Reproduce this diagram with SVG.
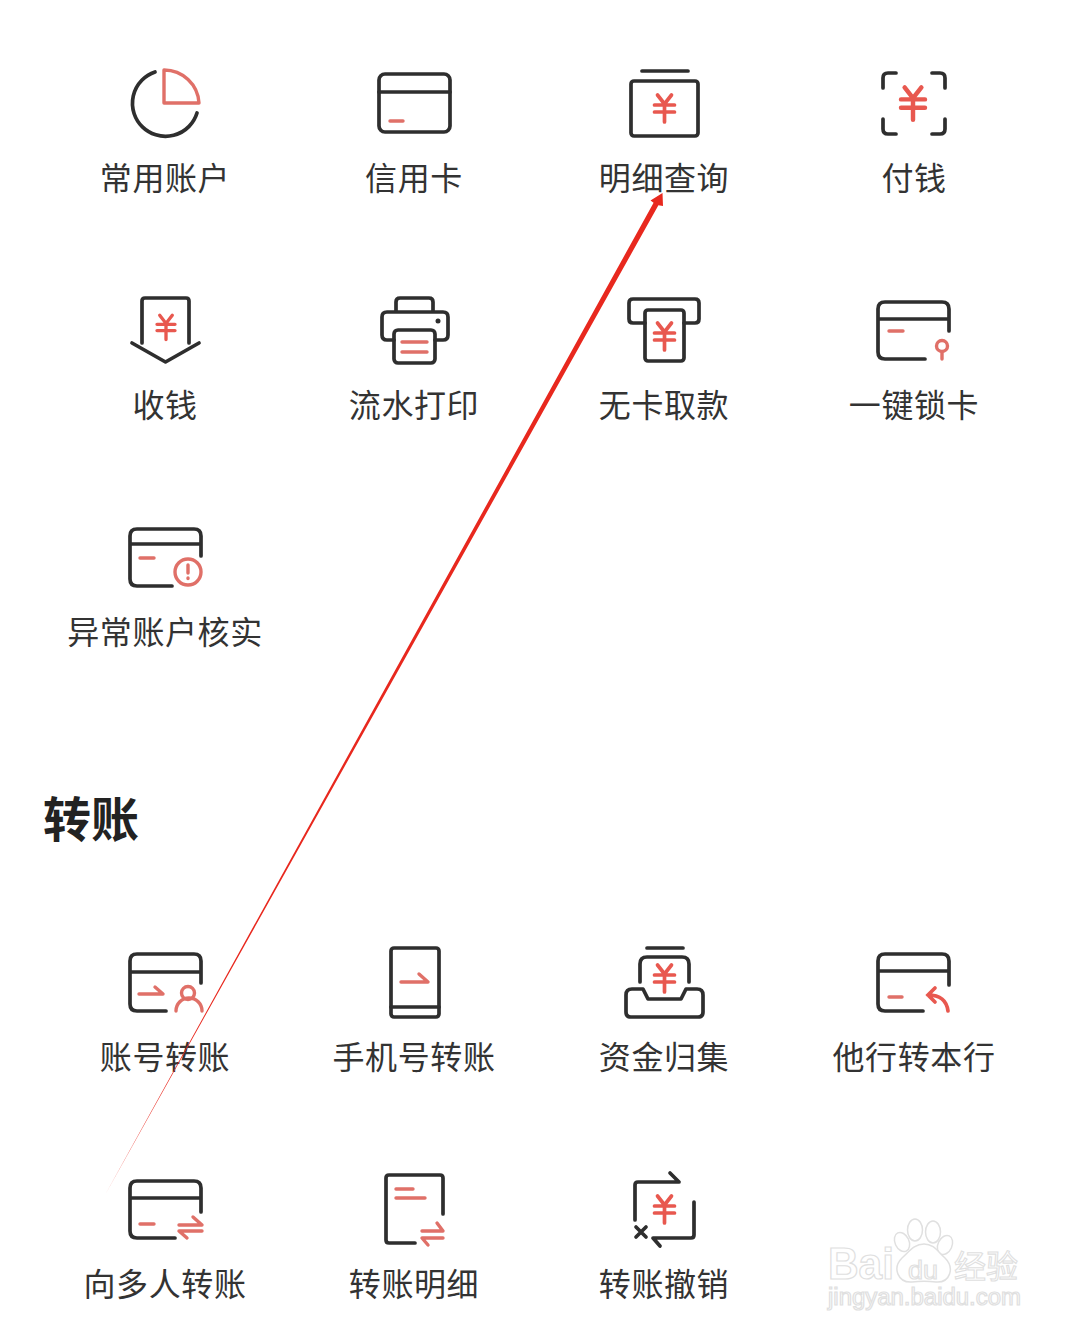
<svg xmlns="http://www.w3.org/2000/svg" width="1080" height="1335" viewBox="0 0 1080 1335">
<style>
.k{fill:none;stroke:#2e2e2e;stroke-width:3.700;stroke-linecap:round;stroke-linejoin:round}
.r{fill:none;stroke:#e07068;stroke-width:3.400;stroke-linecap:round;stroke-linejoin:round}
.y{fill:none;stroke:#e8584f;stroke-linecap:round;stroke-width:3.700}
.t{font-family:"Noto Sans CJK SC","Noto Sans",sans-serif;font-size:32px;letter-spacing:.6px;fill:#333;text-anchor:middle}
.h{font-family:"Noto Sans CJK SC","Noto Sans",sans-serif;font-size:48px;font-weight:700;fill:#222}
.w{font-family:"Liberation Sans",sans-serif;fill:#fff;stroke:#e0e0e0;stroke-width:1.200}
.wc{font-family:"Noto Sans CJK SC",sans-serif;fill:#fff;stroke:#e0e0e0;stroke-width:1.100}
.p{fill:#fff;stroke:#e0e0e0;stroke-width:1.500}
</style>
<defs>
<path id="yen" d="M-7-13L0-4L7-13M-10-3H10M-10 4H10M0-3.500V14"/>
</defs>
<rect width="1080" height="1335" fill="#fff"/>

<g id="node-changyong">
<path class="k" d="M155 72A33 33 0 1 0 197 113"/>
<path class="r" d="M164 70V103H199A35 35 0 0 0 164 70Z"/>
<text class="t" x="165" y="190">常用账户</text>
</g>
<g id="node-xinyongka">
<rect class="k" x="379" y="74" width="71" height="58" rx="6"/>
<path class="k" d="M379 92H450"/>
<path class="r" d="M390 121H403"/>
<text class="t" x="414" y="190">信用卡</text>
</g>
<g id="node-mingxi">
<path class="k" d="M642 71H688"/>
<rect class="k" x="631" y="81" width="67" height="55" rx="3"/>
<use href="#yen" class="y" transform="translate(664.500 108)"/>
<text class="t" x="664" y="190">明细查询</text>
</g>
<g id="node-fuqian">
<path class="k" d="M883 88V78Q883 73 888 73H896M932 73H940Q945 73 945 78V88M883 119V129Q883 134 888 134H896M932 134H940Q945 134 945 129V119"/>
<use href="#yen" class="y" transform="translate(913 103) scale(1.200)"/>
<text class="t" x="914" y="190">付钱</text>
</g>

<g id="node-shouqian">
<path class="k" d="M142 343V301Q142 298 145 298H186Q189 298 189 301V343M132 343L165.500 362L199 343"/>
<use href="#yen" class="y" transform="translate(166 327) scale(.9)"/>
<text class="t" x="165" y="417">收钱</text>
</g>
<g id="node-liushui">
<path class="k" d="M396 312V302Q396 298 400 298H429Q433 298 433 302V312M394 340H387Q382 340 382 335V317Q382 312 387 312H443Q448 312 448 317V335Q448 340 443 340H435"/>
<rect class="k" x="394" y="330" width="41" height="33" rx="4"/>
<path class="r" d="M402 342H427M402 352H427"/>
<circle cx="438" cy="321" r="2.500" fill="#2e2e2e"/>
<text class="t" x="414" y="417">流水打印</text>
</g>
<g id="node-wuka">
<path class="k" d="M645 323H633Q629 323 629 319V303Q629 299 633 299H695Q699 299 699 303V319Q699 323 695 323H684"/>
<rect class="k" x="645" y="310" width="39" height="51" rx="3"/>
<use href="#yen" class="y" transform="translate(664.500 336)"/>
<text class="t" x="664" y="417">无卡取款</text>
</g>
<g id="node-suoka">
<path class="k" d="M949 331V309Q949 302 942 302H885Q878 302 878 309V352Q878 359 885 359H925M878 319H949"/>
<path class="r" d="M889 331H903M942 352V359"/>
<circle class="r" cx="942" cy="346" r="5.500"/>
<text class="t" x="914" y="417">一键锁卡</text>
</g>

<g id="node-yichang">
<path class="k" d="M201 556V536Q201 529 194 529H137Q130 529 130 536V579Q130 586 137 586H172M130 544H201"/>
<path class="r" d="M140 558H154"/>
<circle class="r" cx="188" cy="572" r="13"/>
<path class="r" d="M188 565V573M188 578V578.500"/>
<text class="t" x="165" y="644">异常账户核实</text>
</g>

<text class="h" x="43" y="837">转账</text>

<g id="node-zhanghao">
<path class="k" d="M201 983V961Q201 954 194 954H137Q130 954 130 961V1004Q130 1011 137 1011H166M130 972H201"/>
<path class="r" d="M139 994H163L155 987"/>
<circle class="r" cx="188" cy="993" r="6.500"/>
<path class="r" d="M176 1011A13 13 0 0 1 202 1011"/>
<text class="t" x="165" y="1069">账号转账</text>
</g>
<g id="node-shouji">
<rect class="k" x="391" y="948" width="48" height="69" rx="3"/>
<path class="k" d="M391 1007H439"/>
<path class="r" d="M401 982H428L419 974"/>
<text class="t" x="414" y="1069">手机号转账</text>
</g>
<g id="node-zijin">
<path class="k" d="M647 948H683M640 982V964Q640 957 647 957H682Q689 957 689 964V982"/>
<path class="k" d="M626 995Q626 989 632 989H643L648 999H681L686 989H697Q703 989 703 995V1012Q703 1017 698 1017H631Q626 1017 626 1012Z"/>
<use href="#yen" class="y" transform="translate(664.500 978)"/>
<text class="t" x="664" y="1069">资金归集</text>
</g>
<g id="node-taxing">
<path class="k" d="M949 985V961Q949 954 942 954H885Q878 954 878 961V1004Q878 1011 885 1011H923M878 971H949"/>
<path class="r" d="M889 997H902"/>
<path class="y" d="M935 988L928 995L935 1002M928 995Q946 995 948 1011"/>
<text class="t" x="914" y="1069">他行转本行</text>
</g>

<g id="node-xiangduoren">
<path class="k" d="M201 1212V1188Q201 1181 194 1181H137Q130 1181 130 1188V1231Q130 1238 137 1238H175M130 1198H201"/>
<path class="r" d="M140 1224H154M179 1225H202L193 1217M202 1231H179L187 1238"/>
<text class="t" x="165" y="1296">向多人转账</text>
</g>
<g id="node-zhuanzhangmingxi">
<path class="k" d="M443 1214V1178Q443 1175 440 1175H389Q386 1175 386 1178V1240Q386 1243 389 1243H415"/>
<path class="r" d="M396 1189H413M396 1198H425M422 1231H443L437 1223M443 1238H422L428 1245"/>
<text class="t" x="414" y="1296">转账明细</text>
</g>
<g id="node-chexiao">
<path class="k" d="M635 1220V1185Q635 1182 638 1182H679L670 1173M694 1202V1235Q694 1238 691 1238H653L660 1246M636 1227L646 1237M646 1227L636 1237"/>
<use href="#yen" class="y" transform="translate(664.500 1209)"/>
<text class="t" x="664" y="1296">转账撤销</text>
</g>

<g id="connectors">
<path d="M105 1195L653.600 202.700L650.500 200.500L662.500 193L663 206L658.400 205.300Z" fill="#e8281e"/>
</g>

<g id="watermark">
<text class="w" x="828" y="1279" font-size="44" font-weight="700" textLength="66" lengthAdjust="spacingAndGlyphs">Bai</text>
<ellipse class="p" cx="902" cy="1242" rx="7" ry="10" transform="rotate(-25 902 1242)"/>
<ellipse class="p" cx="915" cy="1230" rx="7.500" ry="11"/>
<ellipse class="p" cx="933" cy="1232" rx="7.500" ry="11"/>
<ellipse class="p" cx="945" cy="1245" rx="7" ry="10" transform="rotate(25 945 1245)"/>
<path class="p" d="M924 1244C934 1244 938 1252 945 1258C955 1268 950 1283 936 1282C928 1281 920 1281 912 1282C898 1283 892 1268 902 1258C909 1252 914 1244 924 1244Z"/>
<text class="w" x="908" y="1279" font-size="26" textLength="30" lengthAdjust="spacingAndGlyphs">du</text>
<text class="wc" x="954" y="1278" font-size="32">经验</text>
<text class="w" x="828" y="1305" font-size="23" textLength="193" lengthAdjust="spacingAndGlyphs">jingyan.baidu.com</text>
</g>
</svg>
